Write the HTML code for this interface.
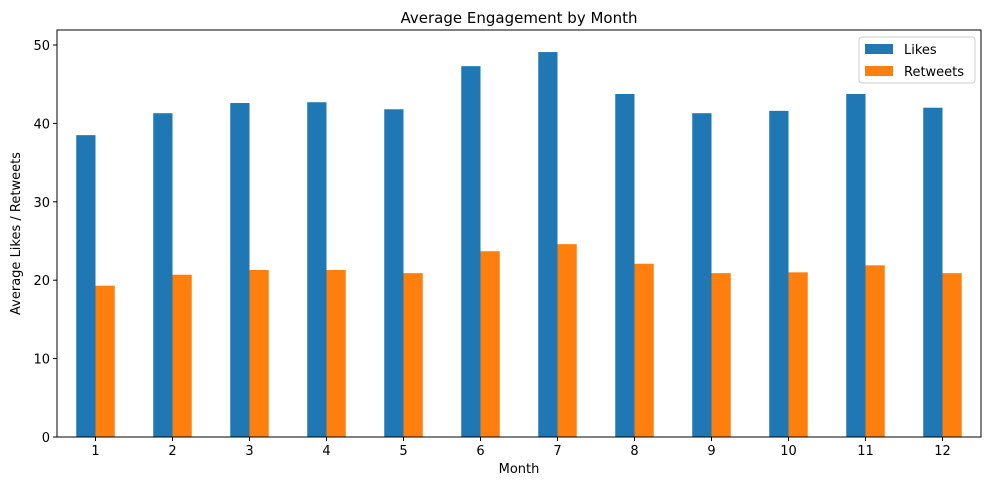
<!DOCTYPE html>
<html><head><meta charset="utf-8"><style>
html,body{margin:0;padding:0;background:#fff;}
svg{display:block;font-family:"DejaVu Sans","Liberation Sans",sans-serif;}
</style></head><body>
<svg id="chart" width="989" height="490"></svg>
<script>
const categories=["1","2","3","4","5","6","7","8","9","10","11","12"];
const likes=[38.5,41.3,42.6,42.7,41.8,47.3,49.1,43.75,41.3,41.6,43.75,42.0];
const retweets=[19.3,20.7,21.3,21.3,20.9,23.7,24.6,22.1,20.9,21.0,21.9,20.9];
const yTicks=[0,10,20,30,40,50];
const NS="http://www.w3.org/2000/svg";
const svg=document.getElementById('chart');
const L=57,R=981,T=30,B=437;
const yScale=v=>B-(v/50)*(B-45);
const step=(R-L)/categories.length;
const xCenter=i=>L+step*(i+0.5);
const bw=step/4;
function mk(tag,attrs,text){const e=document.createElementNS(NS,tag);for(const k in attrs)e.setAttribute(k,attrs[k]);if(text!==undefined)e.textContent=text;svg.appendChild(e);return e;}
let e;
e=mk('text',{x:(L+R)/2,y:23,'text-anchor':'middle','font-size':15,fill:'#000'},'Average Engagement by Month');


categories.forEach((c,i)=>{
  const cx=xCenter(i);
  let b=mk('rect',{x:cx-bw,y:yScale(likes[i]),width:bw,height:B-yScale(likes[i]),fill:'#1f77b4'});
  
  
  b=mk('rect',{x:cx,y:yScale(retweets[i]),width:bw,height:B-yScale(retweets[i]),fill:'#ff7f0e'});
  
  
  mk('line',{x1:cx,x2:cx,y1:B,y2:B+4,stroke:'#000'});
  let t=mk('text',{x:cx,y:B+18,'text-anchor':'middle','font-size':13},c);
  
  
});
yTicks.forEach(v=>{
  const y=yScale(v);
  mk('line',{x1:L-4,x2:L,y1:y,y2:y,stroke:'#000'});
  let t=mk('text',{x:L-7,y:y+5,'text-anchor':'end','font-size':13},String(v));
  
  
});
e=mk('rect',{x:L,y:T,width:R-L,height:B-T,fill:'none',stroke:'#000','stroke-width':1});


e=mk('text',{x:(L+R)/2,y:473,'text-anchor':'middle','font-size':13},'Month');


e=mk('text',{x:20,y:(T+B)/2,'text-anchor':'middle','font-size':13,transform:'rotate(-90 20 '+((T+B)/2)+')'},'Average Likes / Retweets');


e=mk('rect',{x:859,y:37,width:116,height:46,rx:3,fill:'#fff',stroke:'#ccc'});


mk('rect',{x:865,y:44,width:28,height:10,fill:'#1f77b4'});
e=mk('text',{x:904,y:54,'font-size':13},'Likes');


mk('rect',{x:865,y:66,width:28,height:10,fill:'#ff7f0e'});
e=mk('text',{x:904,y:76,'font-size':13},'Retweets');


</script>
</body></html>
